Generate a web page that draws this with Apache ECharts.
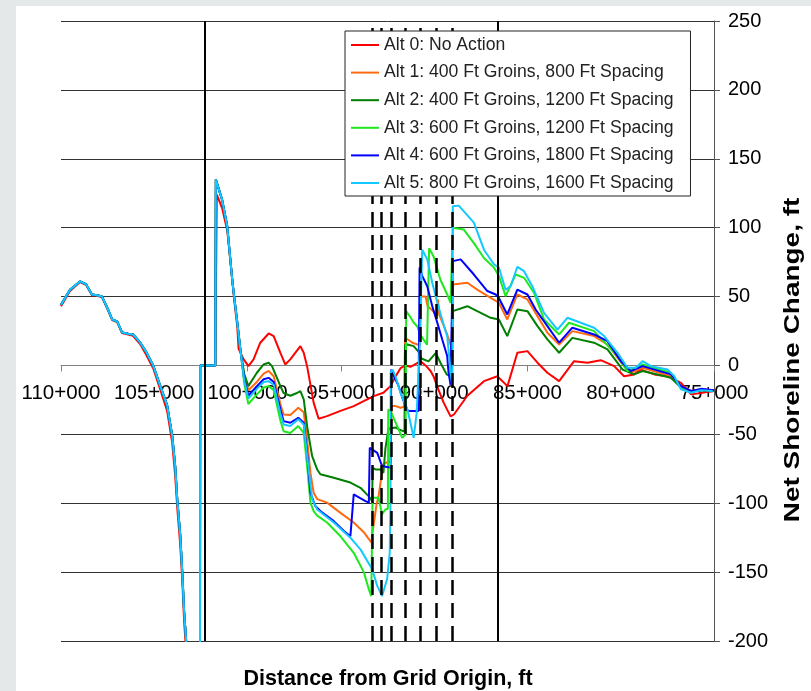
<!DOCTYPE html>
<html><head><meta charset="utf-8">
<script src="https://cdn.jsdelivr.net/npm/echarts@6/dist/echarts.min.js"></script>
<style>
html,body{margin:0;padding:0;background:#e4e8e8;}
#wrap{position:relative;width:811px;height:691px;overflow:hidden;background:#e4e8e8;}
#paper{position:absolute;left:16px;top:6px;right:0;bottom:0;background:#fff;}
#chart{position:absolute;left:0;top:0;width:811px;height:691px;}
</style></head><body>
<div id="wrap"><div id="paper"></div><div id="chart"></div></div>
<script>
// ---- data (distance in ft, net shoreline change in ft) ----
const seriesNames = [
  'Alt 0: No Action',
  'Alt 1: 400 Ft Groins, 800 Ft Spacing',
  'Alt 2: 400 Ft Groins, 1200 Ft Spacing',
  'Alt 3: 600 Ft Groins, 1200 Ft Spacing',
  'Alt 4: 600 Ft Groins, 1800 Ft Spacing',
  'Alt 5: 800 Ft Groins, 1600 Ft Spacing'
];
const seriesColors = ['#ff0000', '#ff6a10', '#007f00', '#1ee81e', '#0000ff', '#14c8ff'];
const xTickValues = [110000, 105000, 100000, 95000, 90000, 85000, 80000, 75000];
const solidLines = [102270, 86600];
const dashedLines = [93310, 92820, 92290, 91530, 90730, 89870, 89010];

const headCommon = [[110000,44],[109520,55],[108980,61],[108660,59],[108340,51.5],[108070,51],[107800,50],[107480,40.6],[107260,33.4],[106990,32],[106730,24],[106400,23],[106140,22.5],[105760,16.7],[105440,10],[105060,0],[104690,-14.5],[104310,-29],[104040,-51],[103880,-73],[103770,-97],[103610,-123],[103500,-150],[103400,-179],[103290,-200],[103130,-242],[102560,-400],[102540,0],[101730,0],[101700,135],[101360,120],[101090,101],[100820,62],[100720,50],[100550,31],[100390,12]];

const alt0 = [[110000,43],[109520,54],[108980,60.5],[108660,58.5],[108340,51],[108070,50.5],[107800,49.5],[107480,40],[107260,33],[106990,31.5],[106730,23.5],[106400,22.5],[106140,21.5],[105760,15.5],[105440,8],[105060,-2],[104690,-17],[104310,-33],[104040,-56],[103880,-80],[103770,-103],[103610,-130],[103500,-156],[103400,-186],[103290,-208],[103130,-250],[102560,-400],[102540,0],[101730,0],[101650,124],[101360,114],[101090,98],[100820,62],[100720,48],[100550,28],[100480,12],[100210,4.4],[99950,-0.5],[99680,4.4],[99320,16.5],[98870,23.2],[98600,21.3],[98240,9.2],[97980,0.7],[97710,4.4],[97170,14],[96990,9.2],[96810,-0.5],[96460,-27],[96190,-38.7],[95740,-36.8],[95020,-33],[94310,-29.5],[93590,-24.7],[93240,-22.3],[92720,-19.8],[92340,-15],[92070,-8],[91800,-2],[91530,0],[91270,-1],[91000,1],[90730,3],[90460,0],[90190,-4],[90030,-8],[89760,-18],[89490,-27],[89120,-37],[88940,-35.6],[88220,-22],[87330,-11.4],[86610,-7.8],[86070,-15],[85540,9.2],[85000,10.4],[84460,2],[83930,-5.3],[83300,-11.4],[82500,3.1],[81780,2],[81070,3.8],[80350,-0.5],[79820,-7.8],[79280,-6.5],[78920,-3],[78200,-6.5],[77480,-7.8],[76770,-12.6],[76230,-21],[75700,-20],[75070,-18.6]];

const alt1Tail = [[100180,-8],[99960,-18],[99500,-12],[99140,-6],[98870,-4],[98600,-7.8],[98240,-28],[98070,-35.6],[97710,-36],[97280,-30.7],[96990,-34],[96810,-53.7],[96630,-78],[96460,-92.4],[96270,-97],[95740,-99.6],[95020,-107],[94310,-114],[93770,-121],[93500,-126],[93360,-128.7],[93330,-124],[93090,-101],[92980,-95],[92730,-72],[92500,-70],[92340,-70],[92280,-29.5],[92070,-29.5],[91800,-30.7],[91600,-30],[91560,19],[91430,19],[91160,16.5],[90890,15.2],[90750,15],[90730,50],[90460,50],[90350,43],[90100,40],[89830,36],[89800,48],[89700,36],[89330,23.7],[89120,15],[89020,12],[89000,58.8],[88950,58.8],[88220,60],[87690,55],[86970,49],[86530,45.5],[86080,33.4],[85540,51.5],[85000,47.9],[84460,35.8],[83930,23.7],[83300,15.2],[82590,24.9],[81430,21.3],[80710,15.2],[79900,0.7],[79460,-5.3],[78830,-1.7],[77310,-7.8],[76770,-15],[76230,-18.5],[75700,-17.5],[75000,-18]];

const alt2Tail = [[100180,-6],[99960,-15],[99500,-5.3],[99140,0.7],[98870,2],[98690,-0.5],[98240,-15],[98070,-20],[97710,-22],[97350,-20],[97170,-18.6],[96990,-24.7],[96810,-44],[96540,-65.8],[96270,-75.5],[96100,-79],[95380,-81.5],[94490,-85],[93950,-88.8],[93500,-95],[93320,-98.5],[93300,-74.3],[93140,-75.5],[92880,-75.5],[92720,-78],[92610,-60],[92450,-46],[92070,-45],[91890,-46.4],[91590,-48],[91560,15],[91430,15.2],[91100,14],[90840,10],[90680,5],[90300,3],[89920,9],[89660,2],[89330,-6.5],[89120,-8],[89020,-8],[89000,39.4],[88940,39.4],[88220,43],[87690,39.4],[86970,34.6],[86530,33.4],[86080,21.3],[85540,40.6],[85000,39.4],[84460,28.5],[83930,18.9],[83300,9.2],[82590,20],[81430,16.5],[80710,11.6],[79900,-3],[79280,-6.5],[78830,-4.1],[77310,-9],[76770,-16],[76230,-19],[75700,-18],[75000,-18.6]];

const alt3Tail = [[100180,-13],[99960,-28],[99500,-21],[99140,-16],[98870,-15],[98600,-18],[98240,-40],[98070,-47.7],[97710,-49],[97280,-44],[96990,-49],[96810,-73],[96630,-99.6],[96460,-105.7],[96270,-109],[95740,-114],[95020,-124],[94310,-136],[93770,-150],[93500,-162.5],[93370,-167.4],[93300,-96],[92980,-96],[92790,-108],[92610,-104.5],[92480,-104],[92460,-32],[92340,-33],[91980,-44],[91710,-52.5],[91530,-50],[91500,39.4],[91440,39.4],[91270,35],[91090,31],[90910,28.5],[90730,22],[90380,15],[90300,15],[90270,85],[90190,85],[90030,79],[89660,62],[89300,51.5],[89120,45.5],[89020,45],[89000,100],[88950,100],[88420,98.7],[87880,89],[87330,78],[86790,71],[86530,65],[86170,50.3],[85630,66],[85180,63.6],[84650,52.8],[84110,33.4],[83300,22.5],[82770,31],[81430,24.9],[80170,6.8],[79640,-4.1],[78830,0.7],[77330,-5.3],[76770,-16],[76230,-19],[75700,-17.5],[75000,-18.3]];

const alt4Tail = [[100180,-10],[99960,-22],[99500,-15],[99140,-10],[98870,-9],[98600,-12],[98240,-32],[98070,-40.4],[97710,-41.6],[97280,-38],[96990,-41.6],[96810,-63.4],[96630,-92.4],[96370,-102],[96100,-105.7],[95380,-113],[94850,-120],[94490,-124],[94400,-125],[94310,-93.6],[94130,-95],[93680,-98.5],[93500,-99.6],[93450,-59.8],[93050,-63.4],[92790,-73],[92330,-74.3],[92300,-3],[92150,-8],[91930,-14],[91690,-24],[91410,-33],[90840,-33],[90780,71],[90640,65],[90370,57.5],[90100,43],[89830,31],[89570,19],[89300,6.8],[89230,-5],[89120,-14],[89020,-14],[89000,75.7],[88950,75.7],[88580,77],[87870,66],[87150,54],[86700,51.5],[86530,49],[86080,37],[85540,55],[85000,51.5],[84560,40.6],[83930,28.5],[83300,16.5],[82590,27.4],[81430,22.5],[80710,17.6],[79990,3.1],[79460,-4.1],[78830,-0.5],[77310,-6.5],[76770,-15],[76230,-18.5],[75700,-17],[75000,-18]];

const alt5Tail = [[100180,-11],[99960,-24],[99500,-17],[99140,-12],[98870,-11.4],[98600,-14],[98240,-35],[98070,-42.8],[97710,-44],[97280,-39],[96990,-42.8],[96810,-65.8],[96540,-97],[96270,-104.5],[95380,-114],[94490,-125],[93950,-133.5],[93320,-148],[93050,-160],[92790,-167.4],[92520,-155],[92380,-136],[92340,-100],[92330,-5],[92230,-3],[92070,-8],[91800,-20],[91430,-32],[91270,-41.6],[91100,-52.5],[90940,-35],[90780,10],[90640,84],[90370,77],[90100,60],[89830,45.5],[89570,33.4],[89300,21],[89210,9],[89120,-5],[89020,-15],[89000,115.6],[88950,115.6],[88680,116],[87870,103.6],[87330,84],[86790,73.3],[86530,71],[86170,55],[85900,57.5],[85540,71.6],[85180,68.4],[84740,57.5],[84110,38.2],[83390,26],[82860,34.6],[82140,31],[81430,27.4],[80890,21.3],[80170,9.2],[79640,-1.7],[79190,-1.7],[78830,3.1],[78380,-0.5],[77490,-3],[77130,-7.8],[76770,-17.4],[76230,-19.8],[75700,-18],[75070,-18.6]];

const seriesData = [
  alt0,
  headCommon.concat(alt1Tail),
  headCommon.concat(alt2Tail),
  headCommon.concat(alt3Tail),
  headCommon.concat(alt4Tail),
  headCommon.concat(alt5Tail)
];

// ---- chart ----
const FONT = '"Liberation Sans", Arial, sans-serif';
const chart = echarts.init(document.getElementById('chart'), null, {renderer: 'canvas'});

const series = seriesNames.map((n, i) => ({
  name: n, type: 'line', data: seriesData[i],
  symbol: 'none', showSymbol: false, clip: true,
  color: seriesColors[i],
  lineStyle: {color: seriesColors[i], width: 2},
  animation: false, z: 2 + i * 0.01
}));

const refLines = solidLines.map(v => ({xAxis: v, lineStyle: {type: 'solid', width: 2, color: '#000'}}))
  .concat(dashedLines.map(v => ({xAxis: v, lineStyle: {type: [15, 8], width: 2.5, color: '#000'}})));

series.push({
  name: 'refs', type: 'line', data: [[120000, 0]], symbol: 'none', lineStyle: {opacity: 0},
  silent: true, animation: false, z: 5,
  markLine: {silent: true, symbol: ['none', 'none'], label: {show: false}, animation: false, z: 5,
    emphasis: {disabled: true}, data: refLines}
});

function stationFmt(v) {
  const k = Math.floor(v / 1000);
  const r = Math.round(v - k * 1000);
  return k + '+' + String(r).padStart(3, '0');
}

const Y_MIN = -200, Y_MAX = 250, GRID_TOP = 21, GRID_BOTTOM = 50, H = 691;
const plotH = H - GRID_TOP - GRID_BOTTOM;
const zeroOffset = -plotH * (0 - Y_MIN) / (Y_MAX - Y_MIN);

chart.setOption({
  animation: false,
  backgroundColor: 'transparent',
  textStyle: {fontFamily: FONT},
  grid: {left: 61, right: 97, top: GRID_TOP, bottom: GRID_BOTTOM, containLabel: false, outerBoundsMode: 'none'},
  legend: {
    data: seriesNames.map(n => ({name: n, icon: 'rect'})), orient: 'vertical', left: 345, top: 31, z: 20,
    backgroundColor: '#fff', borderColor: '#222', borderWidth: 1, borderRadius: 0,
    padding: [5, 17, 4, 6], itemWidth: 28, itemHeight: 2, itemGap: 9.6,
    textStyle: {fontFamily: FONT, fontSize: 17.6, color: '#222', lineHeight: 18},
    selectedMode: false
  },
  xAxis: {
    type: 'value', min: 75000, max: 110000, interval: 5000, inverse: true,
    position: 'bottom', offset: zeroOffset,
    axisLine: {show: true, onZero: false, lineStyle: {color: '#808080', width: 1}},
    axisTick: {show: true, length: 6, lineStyle: {color: '#808080'}},
    axisLabel: {show: true, formatter: stationFmt, fontFamily: FONT, fontSize: 20.5, color: '#000', margin: 17,
      showMinLabel: true, showMaxLabel: true},
    splitLine: {show: false}
  },
  yAxis: {
    type: 'value', position: 'right', min: Y_MIN, max: Y_MAX, interval: 50,
    axisLine: {show: true, lineStyle: {color: '#555', width: 1}},
    axisTick: {show: true, length: 6, lineStyle: {color: '#555'}},
    axisLabel: {fontFamily: FONT, fontSize: 20, color: '#000', margin: 14, align: 'left',
      showMinLabel: true, showMaxLabel: true},
    splitLine: {show: true, lineStyle: {color: '#333', width: 1}}
  },
  graphic: [
    {type: 'text', x: 388, y: 679, z: 30,
      style: {text: 'Distance from Grid Origin, ft', font: 'bold 21.5px ' + FONT, fill: '#000', align: 'center', verticalAlign: 'middle'}},
    {type: 'text', x: 793, y: 360, rotation: Math.PI / 2, scaleX: 1.3, z: 30,
      style: {text: 'Net Shoreline Change, ft', font: 'bold 21.5px ' + FONT, fill: '#000', align: 'center', verticalAlign: 'middle'}}
  ],
  series: series
});
</script></body></html>
